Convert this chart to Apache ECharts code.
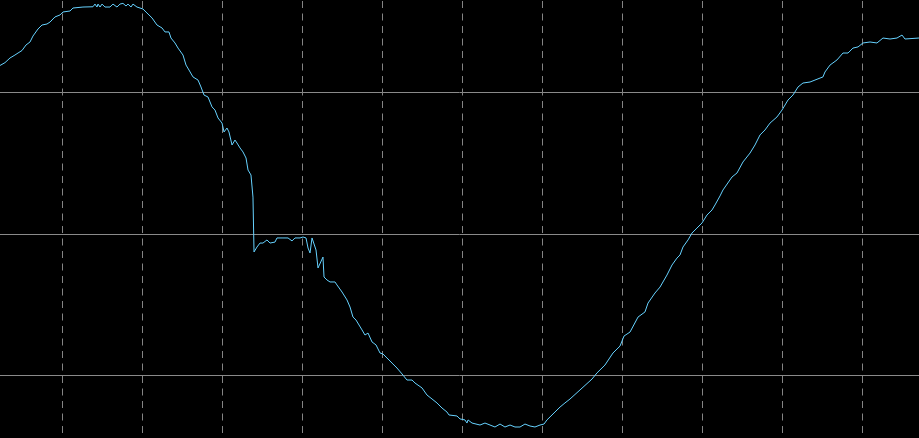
<!DOCTYPE html>
<html>
<head>
<meta charset="utf-8">
<title>signal</title>
<script src="https://cdn.jsdelivr.net/npm/echarts@6/dist/echarts.min.js"></script>
<style>
  html, body { margin: 0; padding: 0; background: #000; }
  #chart { width: 919px; height: 438px; }
</style>
</head>
<body>
<div id="chart"></div>
<script>
// sample positions (x) and levels (y)
const xs = [
  2.19, 2.81, 3.44, 4.06, 4.44, 4.94, 5.19, 5.44, 5.94, 6.31, 6.94, 7.44, 8.06, 8.44, 9.06, 9.69,
  10.06, 10.94, 11.31, 12.56, 13.81, 14.06, 14.31, 14.44, 14.69, 14.94, 15.31, 15.94, 16.31, 16.56,
  16.81, 17.19, 17.56, 17.94, 18.19, 18.56, 18.81, 19.06, 19.31, 19.69, 20.06, 20.56, 21.19, 21.81,
  22.44, 22.81, 23.06, 23.31, 23.56, 24.06, 24.44, 25.06, 25.44, 25.81, 26.31, 26.94, 27.31, 27.69,
  28.19, 28.69, 29.06, 29.44, 29.94, 30.19, 30.56, 30.81, 31.19, 31.56, 31.81, 32.19, 32.56, 32.94,
  33.19, 33.56, 33.69, 33.81, 33.94, 34.31, 34.69, 35.06, 35.56, 35.94, 36.56, 36.81, 37.56, 38.19,
  38.69, 39.06, 39.69, 40.06, 40.44, 40.69, 40.94, 41.19, 41.44, 41.69, 41.94, 42.19, 42.56, 42.69,
  43.06, 43.44, 44.06, 44.31, 44.94, 45.56, 45.94, 46.31, 46.69, 46.94, 47.44, 47.81, 48.19, 48.69,
  49.19, 49.69, 50.06, 50.56, 51.19, 51.81, 52.44, 53.06, 53.69, 54.06, 54.94, 55.56, 56.19, 56.81,
  57.44, 58.06, 58.31, 59.31, 59.69, 60.31, 60.56, 60.69, 61.19, 62.19, 62.81, 63.44, 64.06, 64.69,
  65.31, 65.94, 66.56, 67.19, 67.81, 68.44, 69.06, 69.69, 70.19, 70.56, 70.94, 71.56, 72.19, 72.81,
  73.44, 74.69, 76.19, 76.81, 77.81, 78.81, 79.69, 80.19, 80.94, 81.94, 82.81, 83.19, 84.06, 84.69,
  85.56, 86.19, 86.81, 87.19, 87.56, 88.19, 88.69, 89.31, 89.94, 90.56, 91.19, 91.56, 92.19, 92.56,
  93.69, 94.31, 95.06, 95.94, 96.56, 97.19, 97.81, 98.44, 99.31, 99.94, 100.69, 101.31, 101.94,
  102.56, 103.44, 104.06, 104.69, 105.06, 105.31, 105.94, 106.81, 107.56, 108.19, 108.81, 109.44,
  110.06, 110.94, 111.81, 112.56, 113.44, 114.31, 114.94, 115.31, 117.06
];
const ys = [
  3.191, 3.211, 3.244, 3.265, 3.279, 3.297, 3.307, 3.336, 3.357, 3.399, 3.449, 3.477, 3.484, 3.498, 3.534, 3.548,
  3.569, 3.576, 3.597, 3.604, 3.606, 3.625, 3.604, 3.625, 3.604, 3.625, 3.604, 3.604, 3.625, 3.625,
  3.604, 3.625, 3.630, 3.611, 3.625, 3.604, 3.625, 3.633, 3.604, 3.597, 3.590, 3.562, 3.527, 3.477,
  3.456, 3.428, 3.420, 3.428, 3.385, 3.350, 3.314, 3.265, 3.194, 3.159, 3.110, 3.088, 3.039, 2.982,
  2.968, 2.898, 2.876, 2.820, 2.784, 2.721, 2.749, 2.721, 2.629, 2.664, 2.643, 2.608, 2.580, 2.537,
  2.452, 2.417, 2.403, 2.261, 1.873, 1.908, 1.936, 1.936, 1.958, 1.936, 1.943, 1.972, 1.972, 1.972,
  1.951, 1.972, 1.972, 1.979, 1.972, 1.901, 1.866, 1.972, 1.972, 1.887, 1.760, 1.760, 1.837, 1.696,
  1.675, 1.661, 1.661, 1.640, 1.590, 1.534, 1.484, 1.413, 1.392, 1.406, 1.322, 1.286, 1.300, 1.237,
  1.216, 1.159, 1.152, 1.124, 1.088, 1.053, 1.011, 0.968, 0.968, 0.947, 0.912, 0.862, 0.834, 0.806,
  0.770, 0.742, 0.721, 0.714, 0.693, 0.686, 0.664, 0.686, 0.664, 0.650, 0.664, 0.650, 0.636, 0.657,
  0.636, 0.650, 0.636, 0.636, 0.657, 0.643, 0.636, 0.650, 0.657, 0.686, 0.707, 0.742, 0.777, 0.806,
  0.834, 0.898, 0.975, 1.018, 1.074, 1.159, 1.208, 1.279, 1.307, 1.413, 1.449, 1.512, 1.583, 1.625,
  1.710, 1.781, 1.830, 1.852, 1.908, 1.958, 2.007, 2.042, 2.078, 2.134, 2.170, 2.205, 2.269, 2.311,
  2.403, 2.431, 2.509, 2.572, 2.629, 2.700, 2.735, 2.784, 2.827, 2.876, 2.947, 2.982, 3.039,
  3.067, 3.074, 3.088, 3.102, 3.110, 3.145, 3.194, 3.230, 3.279, 3.279, 3.314, 3.322,
  3.350, 3.357, 3.350, 3.385, 3.378, 3.385, 3.406, 3.378, 3.385
];

const xTicks = { min: 0, max: 120, step: 10 };
const yTicks = { min: 0, max: 4, step: 1 };

const chart = echarts.init(document.getElementById('chart'), null, { renderer: 'canvas' });

const option = {
  backgroundColor: '#000000',
  animation: false,
  grid: {
    left: -17.5,
    top: -49,
    width: 960,
    height: 566,
    containLabel: false,
    outerBoundsMode: 'none'
  },
  xAxis: {
    type: 'value',
    min: xTicks.min,
    max: xTicks.max,
    interval: xTicks.step,
    axisLine: { show: false },
    axisTick: { show: false },
    axisLabel: { show: false },
    splitLine: {
      show: true,
      lineStyle: { color: '#848484', width: 1, type: [7, 5.5] }
    }
  },
  yAxis: {
    type: 'value',
    min: yTicks.min,
    max: yTicks.max,
    interval: yTicks.step,
    axisLine: { show: false },
    axisTick: { show: false },
    axisLabel: { show: false },
    splitLine: {
      show: true,
      lineStyle: { color: '#8a8a8a', width: 1, type: 'solid' }
    }
  },
  series: [
    {
      type: 'line',
      data: xs.map((x, i) => [x, ys[i]]),
      showSymbol: false,
      symbol: 'none',
      lineStyle: { color: '#66d2ff', width: 1 },
      silent: true
    }
  ]
};

chart.setOption(option);
</script>
</body>
</html>
